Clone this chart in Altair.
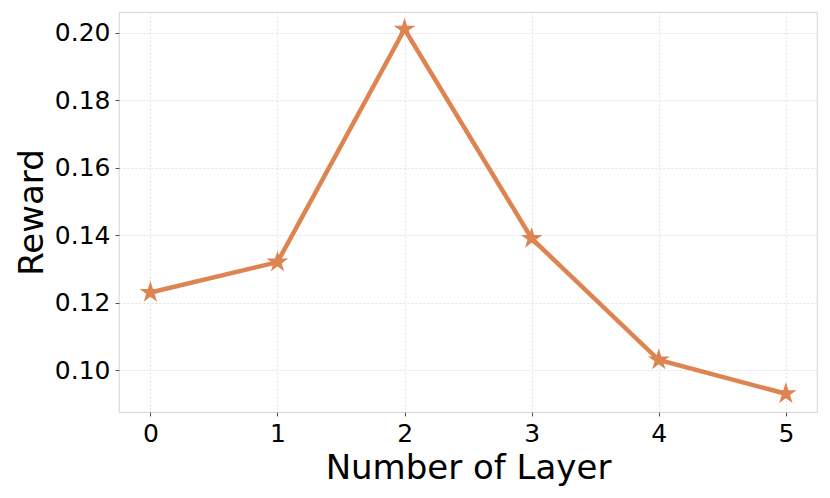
import altair as alt
import pandas as pd

layers = [0, 1, 2, 3, 4, 5]
reward = [0.123, 0.132, 0.201, 0.139, 0.103, 0.093]

df = pd.DataFrame({"layer": layers, "reward": reward})

color = "#dd8452"
star_path = ("M0,-1L0.2245,-0.309L0.9511,-0.309L0.3633,0.118L0.5878,0.809L0,0.382"
             "L-0.5878,0.809L-0.3633,0.118L-0.9511,-0.309L-0.2245,-0.309Z")

base = alt.Chart(df).encode(
    x=alt.X("layer:Q",
            scale=alt.Scale(domain=[-0.247, 5.245], nice=False, zero=False),
            axis=alt.Axis(title="Number of Layer", values=layers, format="d")),
    y=alt.Y("reward:Q",
            scale=alt.Scale(domain=[0.0876, 0.2061], nice=False, zero=False),
            axis=alt.Axis(title="Reward", values=[0.10, 0.12, 0.14, 0.16, 0.18, 0.20],
                          format=".2f")),
)
line = base.mark_line(color=color, strokeWidth=4.5)
pts = base.mark_point(shape=star_path, filled=True, color=color, size=520, opacity=1)

chart = (line + pts).properties(
    width=698, height=400,
    autosize=alt.AutoSizeParams(type="none"),
    padding={"left": 111, "top": 4, "right": 5, "bottom": 78},
).configure_axis(
    labelFontSize=25, titleFontSize=34, titleFontWeight="normal",
    labelColor="#000000", titleColor="#000000",
    tickColor="#555555", tickSize=4, labelPadding=5, titlePadding=5,
    domain=False, grid=True, gridColor="#e3e3e3", gridDash=[2, 2],
    labelFont="DejaVu Sans", titleFont="DejaVu Sans",
).configure_view(stroke="#dcdcdc", strokeWidth=1.2)

chart.save("out.html", embed_options={"renderer": "svg", "actions": False})
